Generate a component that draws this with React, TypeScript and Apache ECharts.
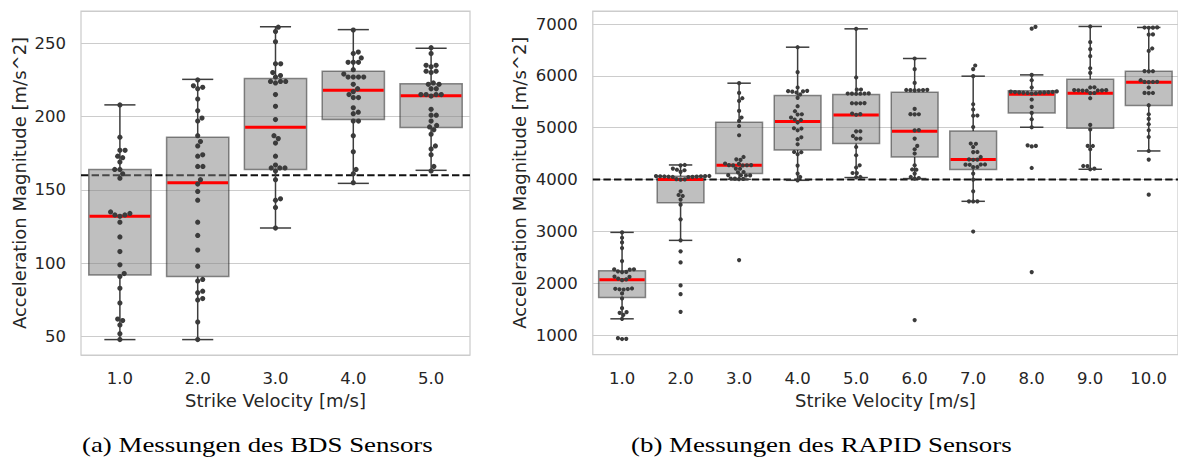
import React, { useEffect, useRef } from "react";
import * as echarts from "echarts";

// ---------- BDS sensor (left panel) ----------
const bdsCategories = ["1.0", "2.0", "3.0", "4.0", "5.0"];
const bdsLow = [48, 48, 124, 154.5, 163.4];
const bdsQ1 = [92, 91, 164, 198, 192.5];
const bdsMedian = [132, 155, 192.7, 218, 214.3];
const bdsQ3 = [164, 186, 226, 231, 222.4];
const bdsHigh = [208, 225.4, 261.3, 259.3, 246.6];
const bdsPoints: number[][] = [
  [208, 186, 177, 177, 173, 172, 169, 164, 164, 161, 158, 135, 134, 133, 133, 132, 128, 118, 108, 99, 93, 91, 83, 73, 62, 61, 58, 52, 48],
  [225, 221, 220, 219, 212, 204, 199, 197, 187, 183, 180, 174, 173, 166, 166, 157, 154, 149, 143, 128, 119, 109, 98, 89, 88, 81, 80, 76, 75, 60, 48],
  [261, 258, 251, 236, 236, 230, 228, 227, 224, 224, 224, 223, 215, 207, 198, 187, 185, 182, 173, 167, 165, 165, 165, 163, 157, 144, 143, 138, 124],
  [259, 244, 243, 240, 237, 237, 237, 232, 229, 227, 227, 227, 227, 222, 219, 217, 215, 213, 213, 206, 203, 202, 197, 197, 187, 176, 164, 161, 155],
  [247, 243, 235, 235, 234, 231, 231, 230, 223, 222, 222, 219, 219, 215, 215, 215, 215, 214, 205, 201, 201, 197, 194, 193, 191, 188, 180, 178, 174, 166, 163],
];
const bdsThreshold = 160;

// ---------- RAPID sensor (right panel) ----------
const rapidCategories = ["1.0", "2.0", "3.0", "4.0", "5.0", "6.0", "7.0", "8.0", "9.0", "10.0"];
const rapidLow = [1315, 2828, 4005, 3986, 4039, 4019, 3581, 5009, 4199, 4552];
const rapidQ1 = [1728, 3553, 4116, 4571, 4695, 4436, 4193, 5286, 4990, 5428];
const rapidMedian = [2067, 4000, 4276, 5119, 5247, 4932, 4386, 5646, 5666, 5878];
const rapidQ3 = [2241, 4065, 5106, 5621, 5641, 5685, 4938, 5711, 5936, 6090];
const rapidHigh = [2982, 4282, 5859, 6553, 6907, 6335, 5994, 6019, 6953, 6934];
const rapidPoints: number[][] = [
  [2982, 2878, 2789, 2679, 2428, 2270, 2268, 2265, 2230, 2220, 2216, 2130, 2125, 2090, 2075, 2060, 1900, 1894, 1890, 1885, 1880, 1805, 1708, 1521, 1444, 1430, 1392, 1315, 942, 929, 925],
  [4282, 4275, 4212, 4190, 4180, 4150, 4070, 4068, 4066, 4064, 4062, 4060, 4058, 4055, 4052, 4050, 4048, 4010, 4005, 4000, 3774, 3703, 3684, 3614, 3517, 3234, 2828, 2616, 2403, 1959, 1791, 1450],
  [5859, 5671, 5569, 5517, 5324, 5197, 5131, 5034, 4855, 4436, 4390, 4380, 4310, 4305, 4280, 4278, 4276, 4274, 4272, 4212, 4210, 4146, 4140, 4085, 4083, 4080, 4078, 4020, 4018, 4015, 4010, 2447],
  [6553, 6071, 5776, 5711, 5705, 5700, 5695, 5679, 5641, 5576, 5415, 5318, 5260, 5255, 5197, 5158, 5150, 5100, 4990, 4985, 4951, 4816, 4778, 4681, 4533, 4528, 4488, 4270, 4116, 4050, 3986],
  [6907, 5969, 5737, 5735, 5662, 5660, 5660, 5658, 5656, 5655, 5475, 5473, 5472, 5470, 5274, 5262, 5250, 4932, 4930, 4841, 4791, 4790, 4629, 4469, 4276, 4232, 4127, 4125, 4050, 4045],
  [6335, 6129, 5864, 5730, 5728, 5726, 5724, 5722, 5720, 5363, 5262, 5260, 5258, 4955, 4950, 4791, 4649, 4585, 4502, 4276, 4195, 4190, 4116, 4050, 4030, 4020, 1290],
  [6200, 6129, 5994, 5453, 5351, 5235, 5230, 5015, 4695, 4690, 4629, 4533, 4530, 4436, 4390, 4386, 4382, 4292, 4290, 4288, 4286, 4243, 4240, 4116, 4000, 3774, 3581, 3580, 3578, 2998],
  [6945, 6910, 6019, 5916, 5776, 5700, 5695, 5690, 5688, 5685, 5683, 5680, 5678, 5675, 5670, 5665, 5660, 5544, 5401, 5286, 5164, 5009, 4660, 4649, 4640, 4224, 2216],
  [6953, 6650, 6515, 6380, 6148, 6057, 5780, 5776, 5726, 5724, 5722, 5720, 5718, 5716, 5714, 5670, 5668, 5569, 5054, 4965, 4650, 4648, 4585, 4263, 4260, 4212, 4199],
  [6934, 6932, 6930, 6928, 6800, 6796, 6528, 6482, 6092, 6090, 6088, 5916, 5886, 5884, 5882, 5880, 5776, 5672, 5670, 5668, 5434, 5260, 5170, 5067, 4951, 4822, 4552, 4386, 3710],
];
const rapidThreshold = 4000;

const xTitle = "Strike Velocity [m/s]";
const yTitle = "Acceleration Magnitude [m/s^2]";
const captionA = "(a) Messungen des BDS Sensors";
const captionB = "(b) Messungen des RAPID Sensors";

// ---------- layout / style ----------
const TEXT = "#262626";
const FONT = "DejaVu Sans";
const GRIDLINE = "#cccccc";
const WHISKER = "#3d3d3d";
const DOT = "#3b3b3b";
const BOX_FILL = "rgba(128,128,128,0.5)";
const BOX_EDGE = "rgba(30,30,30,0.5)";

const G0 = { left: 81, top: 11, width: 389, height: 344 };
const G1 = { left: 592.8, top: 11, width: 590.3, height: 343.5 };
const Y0 = { min: 37.5, max: 272 };
const Y1 = { min: 627, max: 7251 };
const DOT0 = 5.2;
const DOT1 = 4.2;

function swarmOffsets(values: number[], pxPerUnit: number, d: number): number[] {
  const order = values.map((_, i) => i).sort((a, b) => values[a] - values[b]);
  const placed: { x: number; y: number }[] = [];
  const out = new Array(values.length).fill(0);
  for (const i of order) {
    const y = values[i] * pxPerUnit;
    const near = placed.filter((q) => Math.abs(q.y - y) < d);
    const cands = [0];
    for (const q of near) {
      const dx = Math.sqrt(d * d - (q.y - y) * (q.y - y));
      cands.push(q.x + dx, q.x - dx);
    }
    cands.sort((a, b) => Math.abs(a) - Math.abs(b));
    let x = 0;
    for (const c of cands) {
      if (near.every((q) => (q.x - c) * (q.x - c) + (q.y - y) * (q.y - y) >= d * d - 1e-6)) {
        x = c;
        break;
      }
    }
    placed.push({ x, y });
    out[i] = x;
  }
  return out;
}

function boxSeries(gi: number, low: number[], q1: number[], med: number[], q3: number[], high: number[]) {
  const data = low.map((_, i) => [i, low[i], q1[i], med[i], q3[i], high[i]]);
  return {
    type: "custom",
    xAxisIndex: gi,
    yAxisIndex: gi,
    z: 3,
    silent: true,
    encode: { x: 0, y: [1, 2, 3, 4, 5] },
    data,
    renderItem: (_params: any, api: any) => {
      const idx = api.value(0);
      const pLo = api.coord([idx, api.value(1)]);
      const pQ1 = api.coord([idx, api.value(2)]);
      const pMed = api.coord([idx, api.value(3)]);
      const pQ3 = api.coord([idx, api.value(4)]);
      const pHi = api.coord([idx, api.value(5)]);
      const bw = api.size([1, 0])[0];
      const x = pLo[0];
      const boxW = bw * 0.8;
      const capW = bw * 0.4;
      const ws = { stroke: WHISKER, lineWidth: 1.5 };
      return {
        type: "group",
        children: [
          { type: "line", shape: { x1: x, y1: pQ1[1], x2: x, y2: pLo[1] }, style: ws },
          { type: "line", shape: { x1: x, y1: pQ3[1], x2: x, y2: pHi[1] }, style: ws },
          { type: "line", shape: { x1: x - capW / 2, y1: pLo[1], x2: x + capW / 2, y2: pLo[1] }, style: ws },
          { type: "line", shape: { x1: x - capW / 2, y1: pHi[1], x2: x + capW / 2, y2: pHi[1] }, style: ws },
          {
            type: "rect",
            shape: { x: x - boxW / 2, y: pQ3[1], width: boxW, height: pQ1[1] - pQ3[1] },
            style: { fill: BOX_FILL, stroke: BOX_EDGE, lineWidth: 1.5 },
          },
          {
            type: "line",
            shape: { x1: x - boxW / 2 + 0.75, y1: pMed[1], x2: x + boxW / 2 - 0.75, y2: pMed[1] },
            style: { stroke: "#ff0000", lineWidth: 3 },
          },
        ],
      };
    },
  };
}

function dotSeries(gi: number, points: number[][], pxPerUnit: number, d: number) {
  const data: number[][] = [];
  points.forEach((vals, ci) => {
    const offs = swarmOffsets(vals, pxPerUnit, d);
    vals.forEach((v, k) => data.push([ci, v, offs[k]]));
  });
  return {
    type: "custom",
    xAxisIndex: gi,
    yAxisIndex: gi,
    z: 4,
    silent: true,
    encode: { x: 0, y: 1 },
    data,
    renderItem: (_params: any, api: any) => {
      const p = api.coord([api.value(0), api.value(1)]);
      return {
        type: "circle",
        shape: { cx: p[0] + api.value(2), cy: p[1], r: d / 2 },
        style: { fill: DOT },
      };
    },
  };
}

function thresholdSeries(gi: number, value: number) {
  return {
    type: "custom",
    xAxisIndex: gi,
    yAxisIndex: gi,
    z: 2,
    silent: true,
    encode: { x: 0, y: 1 },
    data: [[0, value]],
    renderItem: (params: any, api: any) => {
      const cs = params.coordSys;
      const p = api.coord([0, api.value(1)]);
      return {
        type: "line",
        shape: { x1: cs.x, y1: p[1], x2: cs.x + cs.width, y2: p[1] },
        style: { stroke: "#111111", lineWidth: 2, lineDash: [7.4, 3.2] },
      };
    },
  };
}

const tickStyle = { color: TEXT, fontSize: 16.5, fontFamily: FONT };
const titleStyle = { color: TEXT, fontSize: 18, fontFamily: FONT };

function xAxisFor(gi: number, cats: string[]) {
  return {
    type: "category",
    gridIndex: gi,
    data: cats,
    boundaryGap: true,
    axisLine: { show: false },
    axisTick: { show: false },
    splitLine: { show: false },
    axisLabel: { ...tickStyle, margin: 15 },
    name: xTitle,
    nameLocation: "middle",
    nameGap: 36,
    nameTextStyle: titleStyle,
  };
}

function yAxisFor(gi: number, range: { min: number; max: number }, gap: number) {
  return {
    type: "value",
    gridIndex: gi,
    min: range.min,
    max: range.max,
    splitNumber: 5,
    axisLine: { show: false },
    axisTick: { show: false },
    axisLabel: {
      ...tickStyle,
      margin: 15,
      showMinLabel: false,
      showMaxLabel: false,
      formatter: (v: number) => String(v),
    },
    splitLine: { lineStyle: { color: GRIDLINE, width: 1 } },
    name: yTitle,
    nameLocation: "middle",
    nameGap: gap,
    nameTextStyle: titleStyle,
  };
}

export default function App() {
  const ref = useRef<HTMLDivElement>(null);
  useEffect(() => {
    if (!ref.current) return;
    const chart = echarts.init(ref.current, undefined, { renderer: "svg" });
    const px0 = G0.height / (Y0.max - Y0.min);
    const px1 = G1.height / (Y1.max - Y1.min);
    chart.setOption({
      animation: false,
      backgroundColor: "#ffffff",
      grid: [
        { ...G0, show: true, borderColor: GRIDLINE, borderWidth: 1.25, backgroundColor: "transparent" },
        { ...G1, show: true, borderColor: GRIDLINE, borderWidth: 1.25, backgroundColor: "transparent" },
      ],
      xAxis: [xAxisFor(0, bdsCategories), xAxisFor(1, rapidCategories)],
      yAxis: [yAxisFor(0, Y0, 53), yAxisFor(1, Y1, 64)],
      series: [
        thresholdSeries(0, bdsThreshold),
        boxSeries(0, bdsLow, bdsQ1, bdsMedian, bdsQ3, bdsHigh),
        dotSeries(0, bdsPoints, px0, DOT0),
        thresholdSeries(1, rapidThreshold),
        boxSeries(1, rapidLow, rapidQ1, rapidMedian, rapidQ3, rapidHigh),
        dotSeries(1, rapidPoints, px1, DOT1),
      ],
      graphic: [
        {
          type: "text",
          x: 82,
          y: 444,
          scaleX: 1.25,
          style: { text: captionA, fontSize: 21.5, fontFamily: "Liberation Serif", fill: "#000000", align: "left", verticalAlign: "middle" },
        },
        {
          type: "text",
          x: 631,
          y: 444,
          scaleX: 1.25,
          style: { text: captionB, fontSize: 21.5, fontFamily: "Liberation Serif", fill: "#000000", align: "left", verticalAlign: "middle" },
        },
      ],
    });
    return () => chart.dispose();
  }, []);
  return <div ref={ref} style={{ position: "absolute", left: 0, top: 0, width: 1178, height: 457 }} />;
}
